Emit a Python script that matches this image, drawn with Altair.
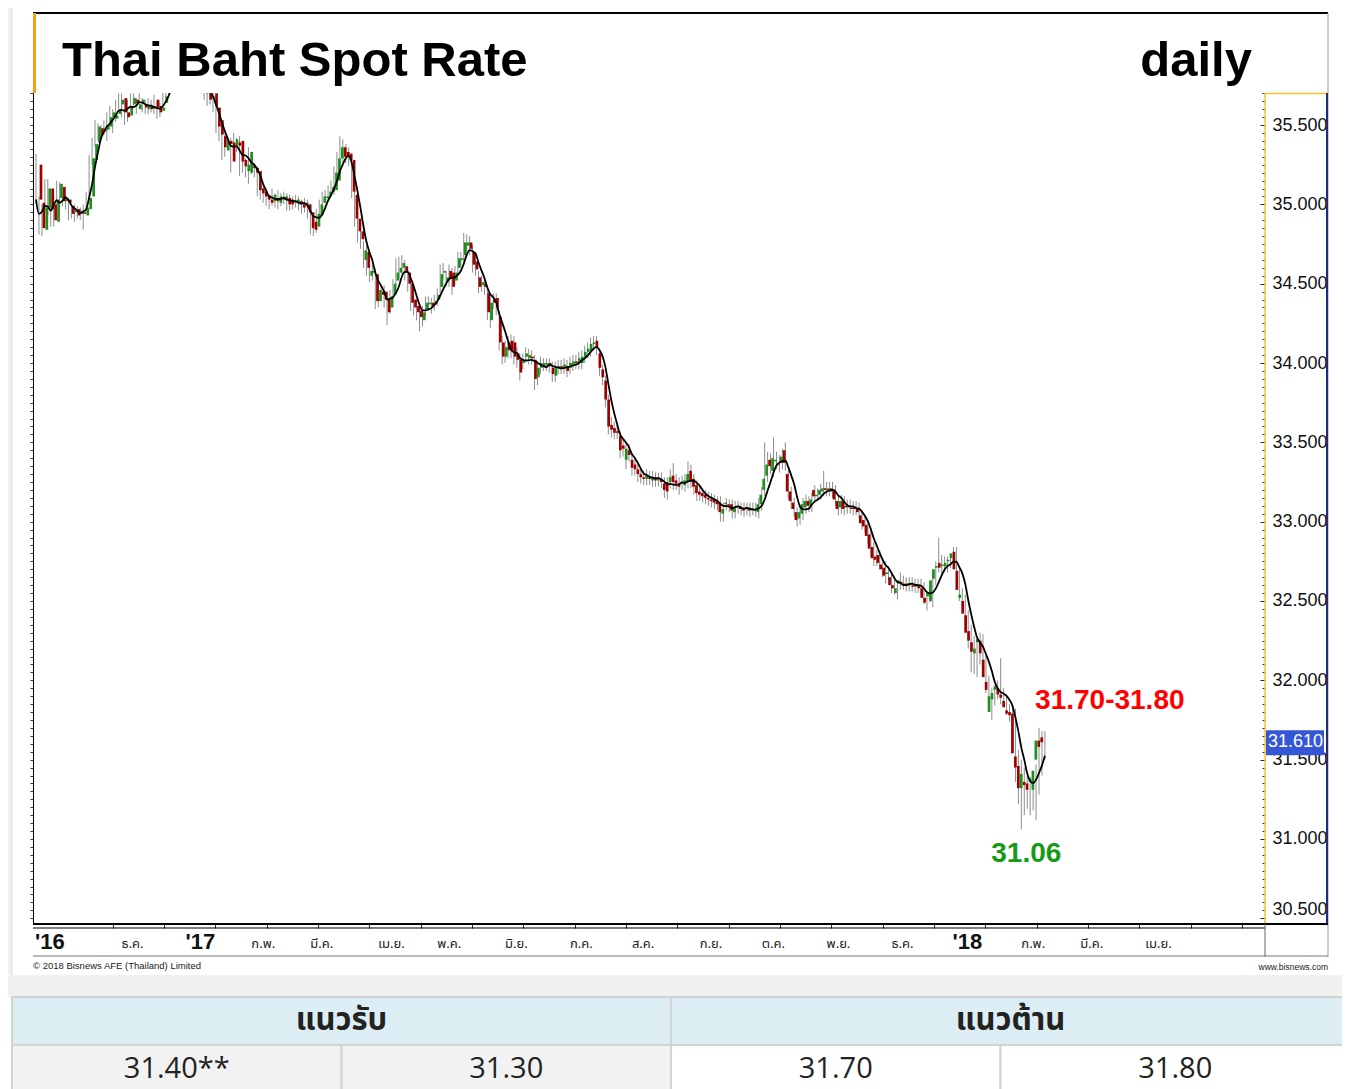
import altair as alt
import pandas as pd
import numpy as np

# ---------------- data ----------------
opens = [
    35.25, 35.01, 34.84, 34.98, 35.10, 35.00, 34.89, 35.04, 35.11, 35.02,
    35.03, 34.99, 34.95, 34.97, 34.94, 34.95, 34.93, 34.97, 35.05, 35.28,
    35.39, 35.48, 35.46, 35.47, 35.49, 35.55, 35.54, 35.57, 35.63, 35.67,
    35.58, 35.56, 35.63, 35.66, 35.60, 35.64, 35.63, 35.60, 35.62, 35.61,
    35.66, 35.62, 35.59, 35.64, 35.70, 35.76, 35.80, 35.84, 35.82, 35.86,
    35.88, 35.85, 35.90, 35.87, 35.84, 35.86, 35.80, 35.78, 35.70, 35.67,
    35.70, 35.61, 35.53, 35.43, 35.34, 35.40, 35.39, 35.37, 35.39, 35.40,
    35.28, 35.21, 35.20, 35.25, 35.23, 35.21, 35.10, 35.08, 35.06, 35.03,
    35.02, 35.04, 35.01, 35.04, 35.03, 35.04, 35.03, 35.01, 35.01, 35.02,
    35.00, 34.99, 35.00, 34.95, 34.89, 34.86, 34.93, 35.01, 35.04, 35.05,
    35.08, 35.09, 35.15, 35.29, 35.36, 35.33, 35.32, 35.28, 35.06, 34.91,
    34.83, 34.65, 34.70, 34.55, 34.58, 34.56, 34.39, 34.45, 34.45, 34.40,
    34.35, 34.43, 34.52, 34.57, 34.60, 34.61, 34.57, 34.50, 34.40, 34.36,
    34.33, 34.27, 34.34, 34.37, 34.38, 34.37, 34.40, 34.48, 34.57, 34.52,
    34.58, 34.57, 34.52, 34.60, 34.65, 34.68, 34.74, 34.76, 34.70, 34.64,
    34.54, 34.49, 34.50, 34.44, 34.27, 34.40, 34.41, 34.29, 34.13, 34.04,
    34.13, 34.14, 34.13, 34.06, 34.02, 34.00, 34.04, 34.03, 34.04, 34.02,
    33.91, 33.97, 33.98, 33.99, 34.00, 33.97, 33.92, 33.97, 33.98, 33.97,
    33.98, 33.97, 33.99, 34.01, 34.00, 34.00, 34.04, 34.07, 34.08, 34.12,
    34.14, 34.06, 33.96, 33.89, 33.77, 33.61, 33.59, 33.57, 33.54, 33.48,
    33.39, 33.45, 33.39, 33.36, 33.33, 33.30, 33.28, 33.27, 33.28, 33.26,
    33.27, 33.26, 33.27, 33.24, 33.25, 33.25, 33.29, 33.26, 33.24, 33.24,
    33.23, 33.25, 33.32, 33.27, 33.23, 33.19, 33.18, 33.17, 33.15, 33.14,
    33.14, 33.13, 33.12, 33.05, 33.11, 33.11, 33.11, 33.06, 33.09, 33.09,
    33.08, 33.08, 33.08, 33.07, 33.08, 33.06, 33.11, 33.20, 33.29, 33.39,
    33.32, 33.38, 33.37, 33.37, 33.45, 33.30, 33.19, 33.12, 33.06, 33.02,
    33.05, 33.09, 33.13, 33.10, 33.20, 33.16, 33.17, 33.19, 33.21, 33.20,
    33.21, 33.20, 33.13, 33.09, 33.13, 33.10, 33.09, 33.09, 33.09, 33.08,
    33.04, 33.01, 32.98, 32.92, 32.84, 32.78, 32.79, 32.73, 32.71, 32.67,
    32.65, 32.60, 32.55, 32.61, 32.62, 32.61, 32.60, 32.61, 32.60, 32.59,
    32.60, 32.58, 32.52, 32.53, 32.50, 32.64, 32.71, 32.74, 32.72, 32.72,
    32.75, 32.77, 32.81, 32.69, 32.52, 32.50, 32.41, 32.31, 32.24, 32.17,
    32.24, 32.25, 32.13, 31.99, 31.80, 31.88, 31.94, 31.95, 31.91, 31.87,
    31.81, 31.80, 31.79, 31.52, 31.46, 31.32, 31.36, 31.35, 31.36, 31.31,
    31.50, 31.62, 31.64,
]
highs = [
    35.32, 35.05, 35.00, 35.16, 35.16, 35.04, 35.06, 35.15, 35.14, 35.08,
    35.06, 35.02, 35.00, 35.00, 34.99, 34.98, 35.00, 35.08, 35.31, 35.42,
    35.53, 35.51, 35.50, 35.53, 35.58, 35.62, 35.60, 35.66, 35.70, 35.70,
    35.60, 35.66, 35.70, 35.70, 35.67, 35.70, 35.67, 35.66, 35.67, 35.66,
    35.69, 35.65, 35.64, 35.72, 35.80, 35.84, 35.88, 35.88, 35.90, 35.93,
    35.92, 35.95, 35.93, 35.90, 35.90, 35.89, 35.83, 35.82, 35.74, 35.72,
    35.74, 35.64, 35.56, 35.46, 35.44, 35.43, 35.42, 35.45, 35.42, 35.43,
    35.32, 35.29, 35.36, 35.29, 35.26, 35.24, 35.13, 35.11, 35.09, 35.06,
    35.10, 35.07, 35.09, 35.07, 35.08, 35.07, 35.06, 35.05, 35.06, 35.05,
    35.03, 35.04, 35.03, 34.98, 34.92, 34.97, 35.03, 35.08, 35.09, 35.12,
    35.15, 35.24, 35.33, 35.43, 35.41, 35.38, 35.36, 35.31, 35.09, 34.95,
    34.87, 34.77, 34.74, 34.63, 34.62, 34.60, 34.50, 34.49, 34.49, 34.44,
    34.46, 34.53, 34.66, 34.67, 34.68, 34.65, 34.60, 34.53, 34.43, 34.40,
    34.37, 34.36, 34.42, 34.42, 34.41, 34.43, 34.47, 34.62, 34.63, 34.58,
    34.62, 34.60, 34.61, 34.70, 34.70, 34.82, 34.81, 34.80, 34.74, 34.68,
    34.58, 34.55, 34.54, 34.47, 34.42, 34.44, 34.44, 34.33, 34.17, 34.14,
    34.17, 34.18, 34.17, 34.10, 34.06, 34.06, 34.10, 34.09, 34.08, 34.05,
    34.01, 34.04, 34.03, 34.03, 34.03, 34.01, 34.01, 34.02, 34.02, 34.03,
    34.02, 34.04, 34.05, 34.05, 34.07, 34.08, 34.11, 34.13, 34.16, 34.17,
    34.17, 34.09, 33.99, 33.92, 33.80, 33.66, 33.63, 33.61, 33.57, 33.52,
    33.50, 33.49, 33.43, 33.40, 33.37, 33.34, 33.32, 33.33, 33.32, 33.32,
    33.31, 33.31, 33.31, 33.28, 33.28, 33.33, 33.37, 33.30, 33.28, 33.29,
    33.30, 33.38, 33.36, 33.30, 33.26, 33.22, 33.21, 33.20, 33.19, 33.18,
    33.17, 33.16, 33.16, 33.12, 33.15, 33.14, 33.14, 33.13, 33.13, 33.12,
    33.12, 33.12, 33.12, 33.12, 33.12, 33.15, 33.22, 33.50, 33.44, 33.43,
    33.53, 33.44, 33.42, 33.46, 33.50, 33.33, 33.22, 33.15, 33.09, 33.10,
    33.15, 33.17, 33.16, 33.18, 33.23, 33.21, 33.24, 33.32, 33.25, 33.25,
    33.25, 33.23, 33.16, 33.17, 33.16, 33.14, 33.14, 33.13, 33.13, 33.12,
    33.07, 33.04, 33.01, 32.95, 32.87, 32.82, 32.82, 32.77, 32.75, 32.72,
    32.68, 32.64, 32.62, 32.68, 32.66, 32.65, 32.65, 32.65, 32.64, 32.64,
    32.64, 32.62, 32.56, 32.59, 32.67, 32.75, 32.90, 32.79, 32.78, 32.78,
    32.80, 32.84, 32.84, 32.72, 32.58, 32.54, 32.44, 32.35, 32.28, 32.25,
    32.30, 32.29, 32.16, 32.03, 31.95, 31.97, 32.00, 32.14, 31.95, 31.91,
    31.85, 31.84, 31.82, 31.56, 31.50, 31.45, 31.40, 31.39, 31.43, 31.47,
    31.70, 31.68, 31.68,
]
lows = [
    35.00, 34.81, 34.80, 34.95, 34.93, 34.86, 34.86, 35.00, 34.98, 34.99,
    34.97, 34.90, 34.91, 34.89, 34.91, 34.90, 34.84, 34.95, 35.03, 35.25,
    35.36, 35.40, 35.43, 35.44, 35.40, 35.50, 35.45, 35.52, 35.60, 35.55,
    35.50, 35.52, 35.60, 35.61, 35.57, 35.60, 35.58, 35.57, 35.57, 35.58,
    35.57, 35.54, 35.55, 35.60, 35.67, 35.72, 35.77, 35.78, 35.79, 35.83,
    35.81, 35.82, 35.83, 35.80, 35.80, 35.76, 35.70, 35.66, 35.62, 35.63,
    35.58, 35.45, 35.40, 35.28, 35.30, 35.34, 35.20, 35.33, 35.33, 35.18,
    35.20, 35.17, 35.13, 35.19, 35.17, 35.05, 35.03, 35.01, 34.99, 34.97,
    34.99, 34.98, 34.97, 34.99, 35.00, 34.96, 34.96, 34.97, 34.98, 34.96,
    34.94, 34.95, 34.91, 34.81, 34.80, 34.82, 34.90, 34.98, 35.01, 35.02,
    35.05, 35.06, 35.12, 35.26, 35.26, 35.26, 35.24, 35.04, 34.86, 34.76,
    34.72, 34.60, 34.55, 34.51, 34.52, 34.34, 34.35, 34.39, 34.35, 34.24,
    34.31, 34.40, 34.49, 34.53, 34.56, 34.52, 34.45, 34.33, 34.30, 34.27,
    34.20, 34.23, 34.30, 34.33, 34.31, 34.33, 34.36, 34.44, 34.53, 34.48,
    34.48, 34.43, 34.49, 34.56, 34.61, 34.64, 34.70, 34.68, 34.57, 34.55,
    34.44, 34.45, 34.43, 34.27, 34.22, 34.34, 34.30, 34.08, 33.99, 34.00,
    34.03, 34.03, 33.99, 33.97, 33.89, 33.96, 34.01, 33.99, 33.99, 33.83,
    33.86, 33.93, 33.95, 33.95, 33.94, 33.88, 33.88, 33.93, 33.93, 33.93,
    33.91, 33.93, 33.95, 33.96, 33.96, 33.96, 34.00, 34.03, 34.04, 34.08,
    34.05, 33.92, 33.86, 33.72, 33.55, 33.53, 33.52, 33.52, 33.40, 33.41,
    33.33, 33.38, 33.29, 33.29, 33.25, 33.24, 33.23, 33.23, 33.23, 33.22,
    33.22, 33.22, 33.21, 33.15, 33.14, 33.21, 33.20, 33.20, 33.17, 33.20,
    33.19, 33.21, 33.21, 33.17, 33.13, 33.13, 33.12, 33.11, 33.10, 33.09,
    33.08, 33.07, 33.00, 33.00, 33.07, 33.06, 33.02, 33.02, 33.05, 33.04,
    33.03, 33.04, 33.03, 33.04, 33.03, 33.02, 33.07, 33.16, 33.25, 33.30,
    33.28, 33.33, 33.31, 33.33, 33.32, 33.14, 33.08, 33.03, 32.97, 32.98,
    33.01, 33.05, 33.06, 33.06, 33.12, 33.13, 33.14, 33.16, 33.16, 33.16,
    33.15, 33.10, 33.04, 33.05, 33.04, 33.05, 33.05, 33.04, 33.04, 33.02,
    32.95, 32.93, 32.86, 32.78, 32.72, 32.72, 32.70, 32.65, 32.61, 32.63,
    32.55, 32.54, 32.51, 32.57, 32.57, 32.56, 32.56, 32.56, 32.55, 32.55,
    32.54, 32.48, 32.44, 32.49, 32.46, 32.60, 32.68, 32.66, 32.68, 32.68,
    32.71, 32.73, 32.65, 32.50, 32.47, 32.35, 32.20, 32.05, 32.04, 32.02,
    32.10, 32.05, 31.92, 31.88, 31.75, 31.84, 31.88, 31.85, 31.84, 31.78,
    31.74, 31.73, 31.36, 31.22, 31.06, 31.15, 31.19, 31.15, 31.18, 31.12,
    31.28, 31.40, 31.50,
]
closes = [
    35.03, 34.85, 34.98, 35.10, 34.97, 34.90, 35.03, 35.13, 35.02, 35.04,
    35.01, 34.94, 34.96, 34.93, 34.96, 34.94, 34.98, 35.04, 35.29, 35.38,
    35.49, 35.44, 35.47, 35.50, 35.55, 35.58, 35.56, 35.60, 35.66, 35.58,
    35.55, 35.62, 35.67, 35.64, 35.63, 35.66, 35.61, 35.62, 35.60, 35.62,
    35.61, 35.58, 35.61, 35.68, 35.76, 35.80, 35.84, 35.82, 35.86, 35.88,
    35.85, 35.90, 35.87, 35.84, 35.86, 35.80, 35.74, 35.70, 35.66, 35.68,
    35.62, 35.49, 35.44, 35.36, 35.40, 35.38, 35.27, 35.41, 35.37, 35.27,
    35.24, 35.25, 35.33, 35.23, 35.20, 35.09, 35.07, 35.05, 35.03, 35.01,
    35.06, 35.02, 35.05, 35.03, 35.05, 35.00, 35.00, 35.02, 35.03, 35.00,
    34.98, 35.01, 34.95, 34.85, 34.84, 34.94, 35.00, 35.05, 35.05, 35.08,
    35.11, 35.20, 35.29, 35.36, 35.30, 35.30, 35.28, 35.08, 34.91, 34.83,
    34.78, 34.71, 34.60, 34.58, 34.57, 34.39, 34.46, 34.43, 34.40, 34.32,
    34.42, 34.50, 34.57, 34.60, 34.63, 34.57, 34.50, 34.38, 34.35, 34.32,
    34.29, 34.32, 34.38, 34.38, 34.36, 34.39, 34.43, 34.56, 34.58, 34.54,
    34.53, 34.48, 34.57, 34.66, 34.66, 34.76, 34.76, 34.72, 34.62, 34.59,
    34.48, 34.51, 34.48, 34.32, 34.38, 34.38, 34.35, 34.13, 34.04, 34.10,
    34.08, 34.08, 34.04, 34.02, 33.94, 34.02, 34.06, 34.05, 34.03, 33.90,
    33.97, 34.00, 34.00, 34.00, 33.98, 33.93, 33.97, 33.98, 33.97, 33.99,
    33.95, 34.00, 34.01, 34.00, 34.03, 34.04, 34.07, 34.09, 34.12, 34.13,
    34.10, 33.97, 33.91, 33.77, 33.60, 33.58, 33.56, 33.56, 33.45, 33.46,
    33.46, 33.42, 33.34, 33.33, 33.30, 33.28, 33.27, 33.29, 33.27, 33.28,
    33.26, 33.27, 33.25, 33.20, 33.19, 33.28, 33.25, 33.24, 33.22, 33.25,
    33.26, 33.30, 33.26, 33.22, 33.18, 33.17, 33.16, 33.15, 33.14, 33.13,
    33.12, 33.11, 33.06, 33.08, 33.12, 33.10, 33.07, 33.09, 33.10, 33.08,
    33.07, 33.09, 33.07, 33.08, 33.07, 33.11, 33.17, 33.27, 33.36, 33.35,
    33.40, 33.39, 33.36, 33.41, 33.37, 33.19, 33.13, 33.08, 33.01, 33.06,
    33.11, 33.13, 33.10, 33.14, 33.16, 33.17, 33.20, 33.21, 33.20, 33.21,
    33.19, 33.14, 33.08, 33.13, 33.08, 33.09, 33.10, 33.08, 33.08, 33.06,
    32.99, 32.97, 32.91, 32.83, 32.77, 32.76, 32.74, 32.70, 32.66, 32.68,
    32.60, 32.58, 32.58, 32.63, 32.61, 32.60, 32.61, 32.60, 32.59, 32.60,
    32.58, 32.52, 32.49, 32.55, 32.63, 32.70, 32.72, 32.71, 32.73, 32.74,
    32.76, 32.80, 32.70, 32.57, 32.54, 32.42, 32.30, 32.25, 32.18, 32.20,
    32.26, 32.17, 32.02, 31.94, 31.90, 31.92, 31.96, 31.91, 31.89, 31.83,
    31.79, 31.78, 31.54, 31.45, 31.32, 31.41, 31.34, 31.31, 31.38, 31.43,
    31.62, 31.58, 31.61,
]

first_day = "2016-10-21"
axis_end_day = "2018-04-30"
thai_months = ["ม.ค.", "ก.พ.", "มี.ค.", "เม.ย.", "พ.ค.", "มิ.ย.",
               "ก.ค.", "ส.ค.", "ก.ย.", "ต.ค.", "พ.ย.", "ธ.ค."]

price_ticks = [30.5, 31.0, 31.5, 32.0, 32.5, 33.0, 33.5, 34.0, 34.5, 35.0, 35.5]

note_texts = ["31.70-31.80", "31.06"]
note_bars = [339, 334]
note_prices = [31.80, 31.06]

table_headers = ["แนวรับ", "แนวต้าน"]
support_levels = ["31.40**", "31.30"]
resistance_levels = ["31.70", "31.80"]

title_text = "Thai Baht Spot Rate"
period_text = "daily"
copyright_text = "© 2018 Bisnews AFE (Thailand) Limited"
site_text = "www.bisnews.com"

# ---------------- tables ----------------
n = min(len(opens), len(highs), len(lows), len(closes))
dates = pd.bdate_range(first_day, periods=n)
df = pd.DataFrame({
    "idx": np.arange(n),
    "date": dates.strftime("%Y-%m-%d"),
    "open": opens[:n], "high": highs[:n], "low": lows[:n], "close": closes[:n],
})

calendar = pd.bdate_range(first_day, axis_end_day)
month_rows = [{"idx": 0, "label": "'" + calendar[0].strftime("%y"), "kind": "year"}]
prev = (calendar[0].year, calendar[0].month)
for i, d in enumerate(calendar):
    key = (d.year, d.month)
    if key != prev:
        prev = key
        if i < 15:  # would collide with the first year label
            continue
        if d.month == 1:
            month_rows.append({"idx": i, "label": "'" + d.strftime("%y"), "kind": "year"})
        else:
            month_rows.append({"idx": i, "label": thai_months[d.month - 1], "kind": "month"})
months_df = pd.DataFrame(month_rows)

notes_df = pd.DataFrame({"bar": note_bars, "price": note_prices, "text": note_texts,
                         "k": list(range(len(note_texts)))})

header_df = pd.DataFrame({"label": table_headers,
                          "c0": [0, 2], "c1": [2, 4], "r0": [0, 0], "r1": [1, 1]})
cell_labels = support_levels + resistance_levels
cells_df = pd.DataFrame({"label": cell_labels,
                         "c0": list(range(4)), "c1": list(range(1, 5)),
                         "r0": [1] * 4, "r1": [2] * 4,
                         "side": ["support"] * 2 + ["resistance"] * 2})

# ---------------- style ----------------
SANS = "Liberation Sans, Arial, Helvetica, sans-serif"
THAI = "Tahoma, Noto Sans Thai, Noto Sans, DejaVu Sans, sans-serif"
TABLE_FONT = "Open Sans, Noto Sans, Noto Sans Thai, sans-serif"
GREEN = "#1c8f1c"
RED = "#9c0000"
W, H = 1232, 831

X = alt.Scale(domain=[-1.02, 416.6], nice=False, zero=False)
Y = alt.Scale(domain=[30.464, 35.702], nice=False, zero=False)
minor_ticks = [round(v, 2) for v in np.arange(30.5, 35.70, 0.05)]
bar_ticks = list(np.arange(26, 417, 17.4))

one = alt.Data(values=[{}])


def hrule(x0, x1, y, color, w=1.0):
    return alt.Chart(one).mark_rule(color=color, strokeWidth=w).encode(
        x=alt.value(x0), x2=alt.value(x1), y=alt.value(y))


def vrule(x, y0, y1, color, w=1.0):
    return alt.Chart(one).mark_rule(color=color, strokeWidth=w).encode(
        x=alt.value(x), y=alt.value(y0), y2=alt.value(y1))


def box(x0, x1, y0, y1, fill):
    return alt.Chart(one).mark_rect(fill=fill).encode(
        x=alt.value(x0), x2=alt.value(x1), y=alt.value(y0), y2=alt.value(y1))


def label(text, x, y, size, font, weight="normal", align="left", color="#000", baseline="alphabetic"):
    return alt.Chart(one).mark_text(text=text, font=font, fontSize=size, fontWeight=weight,
                                    align=align, color=color, baseline=baseline).encode(
        x=alt.value(x), y=alt.value(y))


base = alt.Chart(df)
xq = alt.X("idx:Q", scale=X, axis=None)

wicks = base.mark_rule(color="#8c8c8c", strokeWidth=1, clip=True).encode(
    x=alt.X("idx:Q", scale=X, axis=alt.Axis(values=bar_ticks, labels=False, tickSize=4, domain=False,
                                              grid=False, tickColor="#222", title=None)),
    y=alt.Y("low:Q", scale=Y, axis=alt.Axis(orient="left", values=minor_ticks, labels=False, tickSize=3,
                                              tickColor="#333", domainColor="#000", grid=False, title=None)),
    y2="high:Q",
)

bodies = base.mark_bar(size=2.7, clip=True).encode(
    x=xq,
    y=alt.Y("open:Q", scale=Y, axis=alt.Axis(orient="right", values=price_ticks, format=".3f", tickSize=5,
                                               offset=-5, domain=False, labelPadding=7, labelFontSize=18,
                                               labelFont=SANS, labelColor="#111", tickColor="#222",
                                               labelFlush=10, grid=False, title=None)),
    y2="close:Q",
    color=alt.condition("datum.close >= datum.open", alt.value(GREEN), alt.value(RED)),
)

minor_right = base.transform_filter("datum.idx == 0").mark_point(opacity=0).encode(
    x=xq,
    y=alt.Y("close:Q", scale=Y, axis=alt.Axis(orient="right", values=minor_ticks, labels=False, tickSize=3,
                                                offset=-3, domain=False, grid=False, tickColor="#333",
                                                title=None)),
)

ma = base.transform_window(ma="mean(close)", frame=[-4, 0], sort=[alt.SortField("idx")]).mark_line(
    color="#000", strokeWidth=1.8, clip=True, interpolate="monotone").encode(
    x=xq, y=alt.Y("ma:Q", scale=Y, axis=None))

last = base.transform_joinaggregate(last_idx="max(idx)").transform_filter("datum.idx == datum.last_idx")
tag = last.mark_rect(color="#3557d6", yOffset=-12, y2Offset=13).encode(
    x=alt.value(W + 1), x2=alt.value(W + 59),
    y=alt.Y("close:Q", scale=Y, axis=None), y2="close:Q")
tag_text = last.mark_text(color="#ffffff", font=SANS, fontSize=18, align="left", baseline="middle").encode(
    x=alt.value(W + 3), y=alt.Y("close:Q", scale=Y, axis=None), text=alt.Text("close:Q", format=".3f"))

notes = alt.Chart(notes_df)
note_res = notes.transform_filter("datum.k == 0").mark_text(
    font=SANS, fontSize=28, fontWeight="bold", color="#ff0000", align="left", baseline="middle",
    dx=-1, dy=-11).encode(x=alt.X("bar:Q", scale=X, axis=None), y=alt.Y("price:Q", scale=Y, axis=None),
                          text="text:N")
note_sup = notes.transform_filter("datum.k == 1").mark_text(
    font=SANS, fontSize=28, fontWeight="bold", color="#169a16", align="center", baseline="middle",
    dx=5, dy=25).encode(x=alt.X("bar:Q", scale=X, axis=None), y=alt.Y("price:Q", scale=Y, axis=None),
                        text="text:N")

months = alt.Chart(months_df)
month_lbl = months.transform_filter("datum.kind == 'month'").mark_text(
    font=THAI, fontSize=13, align="left", baseline="middle", color="#222").encode(
    x=alt.X("idx:Q", scale=X, axis=None), y=alt.value(851), text="label:N")
year_lbl = months.transform_filter("datum.kind == 'year'").mark_text(
    font=SANS, fontSize=22, fontWeight="bold", align="left", baseline="middle", color="#111", dx=-1).encode(
    x=alt.X("idx:Q", scale=X, axis=None), y=alt.value(849), text="label:N")

# table
TX = alt.Scale(domain=[0, 4], range=[-21, 1297], nice=False, zero=False)
TY = alt.Scale(domain=[0, 2], range=[904, 1000], nice=False, zero=False)


def table_rect(data, flt, fill_enc, extend):
    return alt.Chart(data).transform_filter(flt).mark_rect(
        stroke="#d3d3d3", strokeWidth=2, x2Offset=extend).encode(
        x=alt.X("c0:Q", scale=TX, axis=None), x2="c1:Q",
        y=alt.Y("r0:Q", scale=TY, axis=None), y2="r1:Q", fill=fill_enc)


def table_text(data, flt, size, weight, shift, baseline, lift):
    return alt.Chart(data).transform_filter(flt).transform_calculate(
        cx="(datum.c0 + datum.c1) / 2", cy="(datum.r0 + datum.r1) / 2").mark_text(
        font=TABLE_FONT, fontSize=size, fontWeight=weight, color="#222", baseline=baseline,
        align="center", dx=shift, dy=lift).encode(
        x=alt.X("cx:Q", scale=TX, axis=None), y=alt.Y("cy:Q", scale=TY, axis=None), text="label:N")


cell_fill = alt.condition("datum.side == 'support'", alt.value("#f2f2f2"), alt.value("#ffffff"))
t_head_a = table_rect(header_df, "datum.c1 < 4", alt.value("#dcedf3"), 0)
t_head_b = table_rect(header_df, "datum.c1 == 4", alt.value("#dcedf3"), 20)
t_cell_a = table_rect(cells_df, "datum.c1 < 4", cell_fill, 0)
t_cell_b = table_rect(cells_df, "datum.c1 == 4", cell_fill, 20)
t_head_txt_a = table_text(header_df, "datum.c1 < 4", 31, "bold", 0, "middle", 0)
t_head_txt_b = table_text(header_df, "datum.c1 == 4", 31, "bold", 10, "middle", 0)
t_cell_txt_a = table_text(cells_df, "datum.c1 < 4", 29, "normal", 0, "middle", 0)
t_cell_txt_b = table_text(cells_df, "datum.c1 == 4", 29, "normal", 10, "middle", 0)

# frame decorations (pixel offsets from the plot's top-left corner)
decor = [
    box(-25, -21, -85, 882, "#f0f0f0"),
    vrule(-21, -85, 882, "#d9d9d9"),
    box(-25, 1309, 882, 904, "#f0f0f0"),
    box(0, 1295, -80, 0, "#ffffff"),
    hrule(0, 1295, -80, "#000", 2),
    box(0, 3, -80, 0, "#f5a01a"),
    vrule(1295, -80, 864, "#9a9a9a"),
    vrule(W, 0, H, "#f3c431", 1.5),
    hrule(W, 1295, 0.5, "#f3c431", 1.5),
    vrule(1294, 0, H, "#1f2c7a", 2),
    hrule(0, 1295, H, "#000", 2),
    hrule(0, W, H + 4, "#000", 1),
    vrule(W, H, H + 33, "#666"),
    hrule(0, 1295, H + 32, "#777", 1),
    label(copyright_text, 0, 876, 9.5, SANS, color="#222"),
    label(site_text, 1295, 877, 8.5, SANS, align="right", color="#222"),
]

title = label(title_text, 29, -17, 49, SANS, weight="bold")
period = label(period_text, 1219, -17, 49, SANS, weight="bold", align="right")

chart = alt.layer(
    *decor[:4],
    t_head_a, t_head_b, t_cell_a, t_cell_b,
    t_head_txt_a, t_head_txt_b, t_cell_txt_a, t_cell_txt_b,
    wicks, bodies, minor_right, ma,
    *decor[4:],
    tag, tag_text, note_res, note_sup, month_lbl, year_lbl,
    title, period,
).resolve_scale(x="independent", y="independent").properties(
    width=W, height=H,
    autosize=alt.AutoSizeParams(type="none"),
    padding={"left": 25, "top": 85, "right": 77, "bottom": 165},
    background="#ffffff",
).configure_view(stroke=None)

chart.save("out.html", embed_options={"renderer": "svg", "actions": False})
